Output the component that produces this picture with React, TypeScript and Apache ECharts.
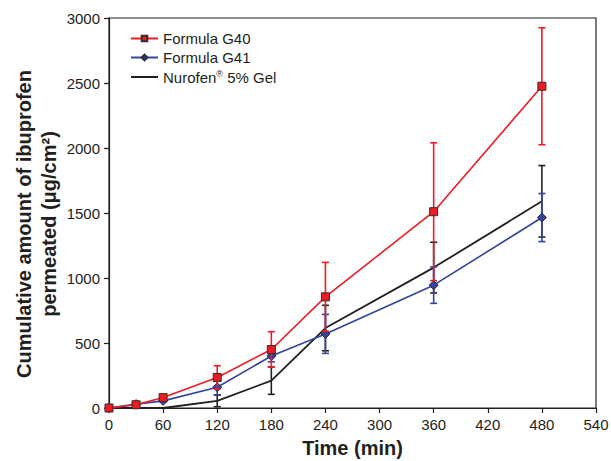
import React, { useEffect, useRef } from "react";
import * as echarts from "echarts";

const times = [0, 30, 60, 120, 180, 240, 360, 480];
const g40 = [0, 25, 80, 235, 450, 855, 1510, 2475];
const g40Err = [0, 10, 15, 90, 137, 265, 530, 450];
const g41 = [0, 30, 55, 160, 400, 570, 945, 1465];
const g41Err = [0, 10, 10, 60, 45, 150, 140, 185];
const nurofen = [0, 0, 0, 55, 210, 615, 1080, 1590];
const nurofenErr = [0, 0, 0, 45, 105, 175, 195, 275];

const xTicks = [0, 60, 120, 180, 240, 300, 360, 420, 480, 540];
const yTicks = [0, 500, 1000, 1500, 2000, 2500, 3000];
const yTitle = ["Cumulative amount of ibuprofen", "permeated (μg/cm²)"];

const RED = "#ed1c24";
const BLUE = "#34449c";
const BLACK = "#231f20";
const FONT = 'Arial, "Liberation Sans", Helvetica, sans-serif';

function errSeries(name: string, vals: number[], errs: number[], color: string, z: number) {
  return {
    type: "custom",
    name,
    z,
    silent: true,
    encode: { x: 0, y: 1 },
    data: times.map((t, i) => [t, vals[i], errs[i]]),
    renderItem: (params: any, api: any) => {
      const x = api.value(0);
      const y = api.value(1);
      const e = api.value(2);
      if (!e) return { type: "group", children: [] };
      const top = api.coord([x, y + e]);
      const bot = api.coord([x, y - e]);
      const hw = 3.5;
      const st = { stroke: color, lineWidth: 1.6 };
      return {
        type: "group",
        children: [
          { type: "line", shape: { x1: top[0], y1: top[1], x2: bot[0], y2: bot[1] }, style: st },
          { type: "line", shape: { x1: top[0] - hw, y1: top[1], x2: top[0] + hw, y2: top[1] }, style: st },
          { type: "line", shape: { x1: bot[0] - hw, y1: bot[1], x2: bot[0] + hw, y2: bot[1] }, style: st },
        ],
      };
    },
  };
}

export default function App() {
  const ref = useRef<HTMLDivElement>(null);
  useEffect(() => {
    if (!ref.current) return;
    const chart = echarts.init(ref.current, null, { renderer: "svg" });
    const option: any = {
      animation: false,
      textStyle: { fontFamily: FONT },
      grid: {
        left: 109,
        right: 15,
        top: 18,
        bottom: 53,
        outerBoundsMode: "none",
        containLabel: false,
        show: true,
        borderColor: BLACK,
        borderWidth: 1.2,
        backgroundColor: "transparent",
      },
      graphic: [
        {
          type: "text",
          x: 24,
          y: 224,
          rotation: Math.PI / 2,
          style: {
            text: yTitle[0],
            font: `bold 20px ${FONT}`,
            fill: BLACK,
            align: "center",
            verticalAlign: "middle",
            textAlign: "center",
            textVerticalAlign: "middle",
          },
        },
        {
          type: "text",
          x: 49,
          y: 224,
          rotation: Math.PI / 2,
          style: {
            text: yTitle[1],
            font: `bold 20px ${FONT}`,
            fill: BLACK,
            align: "center",
            verticalAlign: "middle",
            textAlign: "center",
            textVerticalAlign: "middle",
          },
        },
      ],
      legend: {
        data: [
          { name: "Formula G40" },
          { name: "Formula G41" },
          { name: "Nurofen® 5% Gel", itemStyle: { opacity: 0 } },
        ],
        orient: "vertical",
        left: 130,
        top: 31,
        padding: 0,
        itemWidth: 27,
        itemHeight: 7,
        itemGap: 4,
        textStyle: {
          fontSize: 15,
          color: BLACK,
          fontFamily: FONT,
          rich: {
            sup: { fontSize: 9, padding: [0, 0, 7, 0], color: BLACK, fontFamily: FONT },
          },
        },
        formatter: (name: string) =>
          name.indexOf("®") >= 0 ? "Nurofen{sup|®} 5% Gel" : name,
      },
      xAxis: {
        type: "value",
        min: 0,
        max: 540,
        interval: 60,
        name: "Time (min)",
        nameLocation: "middle",
        nameGap: 30,
        nameTextStyle: { fontSize: 20, fontWeight: "bold", color: BLACK, fontFamily: FONT },
        axisLine: { show: true, onZero: false, lineStyle: { color: BLACK, width: 1.2 } },
        axisTick: { show: true, inside: false, length: 5, lineStyle: { color: BLACK, width: 1.2 } },
        axisLabel: {
          fontSize: 15,
          color: BLACK,
          margin: 9,
          fontFamily: FONT,
          formatter: (v: number) => (xTicks.indexOf(v) >= 0 ? String(v) : ""),
        },
        splitLine: { show: false },
      },
      yAxis: {
        type: "value",
        min: 0,
        max: 3000,
        interval: 500,
        axisLine: { show: true, onZero: false, lineStyle: { color: BLACK, width: 1.2 } },
        axisTick: { show: true, inside: false, length: 5, lineStyle: { color: BLACK, width: 1.2 } },
        axisLabel: {
          fontSize: 15,
          color: BLACK,
          margin: 9,
          fontFamily: FONT,
          formatter: (v: number) => (yTicks.indexOf(v) >= 0 ? String(v) : ""),
        },
        splitLine: { show: false },
      },
      series: [
        errSeries("Nurofen err", nurofen, nurofenErr, BLACK, 2),
        {
          type: "line",
          name: "Nurofen® 5% Gel",
          z: 3,
          data: times.map((t, i) => [t, nurofen[i]]),
          symbol: "none",
          lineStyle: { color: BLACK, width: 1.8 },
          itemStyle: { color: BLACK },
        },
        errSeries("G41 err", g41, g41Err, BLUE, 4),
        {
          type: "line",
          name: "Formula G41",
          z: 5,
          data: times.map((t, i) => [t, g41[i]]),
          symbol: "diamond",
          symbolSize: 9,
          lineStyle: { color: BLUE, width: 1.6 },
          itemStyle: { color: BLUE, borderColor: "#2a2a3a", borderWidth: 1 },
        },
        errSeries("G40 err", g40, g40Err, RED, 6),
        {
          type: "line",
          name: "Formula G40",
          z: 7,
          data: times.map((t, i) => [t, g40[i]]),
          symbol: "rect",
          symbolSize: 8,
          lineStyle: { color: RED, width: 1.6 },
          itemStyle: { color: RED, borderColor: "#3a2a2a", borderWidth: 1 },
        },
      ],
    };
    chart.setOption(option);
    return () => chart.dispose();
  }, []);
  return (
    <div
      ref={ref}
      style={{ position: "fixed", left: 0, top: 0, width: 611, height: 461, background: "#fff" }}
    />
  );
}
